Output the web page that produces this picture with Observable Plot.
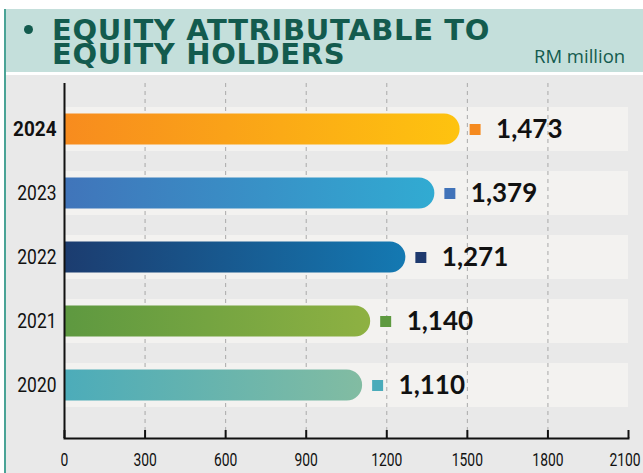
<!DOCTYPE html>
<html>
<head>
<meta charset="utf-8">
<script src="https://cdn.jsdelivr.net/npm/d3@7"></script>
<script src="https://cdn.jsdelivr.net/npm/@observablehq/plot@0.6"></script>
<style>
  html, body { margin: 0; padding: 0; background: #ffffff; }
  #page { position: relative; width: 643px; height: 473px; overflow: hidden; background: #fff; }
  #tealLine { position: absolute; left: 4px; top: 9px; width: 2px; height: 464px; background: #4aa396; }
  #header { position: absolute; left: 6px; top: 9px; width: 637px; height: 63px; background: #c4dfdb; }
  #bodyBg { position: absolute; left: 6px; top: 75px; width: 637px; height: 398px; background: #e9e9e9; }
  .title { position: absolute; font-family: "DejaVu Sans", sans-serif; font-weight: 700; font-size: 29px;
           line-height: 22px; color: #135b4e; letter-spacing: 0.65px; white-space: nowrap; }
  #bullet { position: absolute; left: 24px; top: 25px; width: 9px; height: 9px; border-radius: 50%; background: #135b4e; }
  #unit { position: absolute; left: 534px; top: 45px; font-family: "Open Sans", sans-serif; font-size: 18.5px;
          font-weight: 500; line-height: 22px; color: #135b4e; white-space: nowrap; }
  #chart { position: absolute; left: 0; top: 75px; }
  #defs { position: absolute; width: 0; height: 0; }
</style>
</head>
<body>
<div id="page">
  <div id="header"></div>
  <div id="bodyBg"></div>
  <div id="tealLine"></div>
  <div id="bullet"></div>
  <div class="title" id="t1" style="left:52px; top:18.5px;">EQUITY ATTRIBUTABLE TO</div>
  <div class="title" id="t2" style="left:52px; top:42.5px;">EQUITY HOLDERS</div>
  <div id="unit">RM million</div>
  <div id="chart"></div>
</div>
<script>
// ---- data ----
const years = ["2024", "2023", "2022", "2021", "2020"];
const values = [1473, 1379, 1271, 1140, 1110];
const gradStart = ["#f7891f", "#4172b9", "#1c396c", "#5b9740", "#49abbb"];
const gradEnd = ["#fec30f", "#31abd2", "#1479b2", "#8eb142", "#82bca2"];
const markerColors = ["#f58a1f", "#4173b9", "#1e3a6e", "#5e9a40", "#4aabba"];
const xTicks = [0, 300, 600, 900, 1200, 1500, 1800, 2100];
const gridTicks = [300, 600, 900, 1200, 1500, 1800];
const boldYear = "2024";

const rows = years.map((year, i) => ({
  year, value: values[i], g0: gradStart[i], g1: gradEnd[i], marker: markerColors[i]
}));

// gradient defs
const ns = "http://www.w3.org/2000/svg";
const defsSvg = document.createElementNS(ns, "svg");
defsSvg.setAttribute("id", "defs");
defsSvg.setAttribute("width", 0);
defsSvg.setAttribute("height", 0);
const defs = document.createElementNS(ns, "defs");
rows.forEach(r => {
  const lg = document.createElementNS(ns, "linearGradient");
  lg.setAttribute("id", "g" + r.year);
  lg.setAttribute("x1", "0"); lg.setAttribute("x2", "1");
  lg.setAttribute("y1", "0"); lg.setAttribute("y2", "0");
  [[0, r.g0], [1, r.g1]].forEach(([o, c]) => {
    const s = document.createElementNS(ns, "stop");
    s.setAttribute("offset", o);
    s.setAttribute("stop-color", c);
    lg.appendChild(s);
  });
  defs.appendChild(lg);
});
defsSvg.appendChild(defs);
document.body.appendChild(defsSvg);

const labelFont = "Roboto, 'Liberation Sans', sans-serif";

const chart = Plot.plot({
  width: 643,
  height: 398,
  marginLeft: 64,
  marginRight: 15,
  marginTop: 8,
  marginBottom: 35,
  style: { background: "transparent", overflow: "visible" },
  x: { domain: [0, 2100], axis: null, label: null },
  y: { domain: years, range: [21.5, 341.5], padding: 0, axis: null, label: null },
  color: { type: "identity" },
  marks: [
    Plot.barX(rows, { x1: 0, x2: 2100, y: "year", fill: "#f3f2f0", insetTop: 10, insetBottom: 10 }),
    Plot.ruleX(gridTicks, { stroke: "#a9a9a9", strokeWidth: 1, strokeDasharray: "4,4" }),
    Plot.barX(rows, {
      x1: 0, x2: "value", y: "year",
      fill: d => `url(#g${d.year})`,
      rx: 15.5, insetLeft: -17, insetTop: 16.5, insetBottom: 16.5, clip: true
    }),
    Plot.dot(rows, { x: "value", y: "year", symbol: "square", r: 6.2, fill: "marker", stroke: null, dx: 15 }),
    Plot.text(rows, {
      x: "value", y: "year", text: d => d3.format(",")(d.value),
      dx: 36, textAnchor: "start", fontSize: 26, fontWeight: 700,
      fontFamily: "Lato, sans-serif", fill: "#111"
    }),
    Plot.ruleX([0], { stroke: "#111", strokeWidth: 2 }),
    Plot.frame({ anchor: "bottom", stroke: "#111", strokeWidth: 2 }),
    Plot.axisX({
      ticks: xTicks, tickSize: -8, tickPadding: 23, tickFormat: d => String(d), label: null,
      fontSize: 18, fontFamily: labelFont, fill: "#111", stroke: "#111", strokeWidth: 2
    }),
    Plot.text(rows.filter(d => d.year !== boldYear), {
      x: 0, y: "year", text: "year", dx: -8, textAnchor: "end",
      fontSize: 21, fontFamily: labelFont, fill: "#111"
    }),
    Plot.text(rows.filter(d => d.year === boldYear), {
      x: 0, y: "year", text: "year", dx: -8, textAnchor: "end",
      fontSize: 21, fontWeight: 700, fontFamily: labelFont, fill: "#111"
    })
  ]
});
document.getElementById("chart").appendChild(chart);

// condense label glyphs to match the narrow typeface of the original
function condenseEl(el, factor) {
  const w = el.getComputedTextLength();
  el.setAttribute("textLength", (w * factor).toFixed(2));
  el.setAttribute("lengthAdjust", "spacingAndGlyphs");
}
d3.select(chart).selectAll('g[aria-label="x-axis tick label"] text').each(function () {
  condenseEl(this, 0.77);
  if (this.textContent === "2100") this.setAttribute("dx", "-3.5");
});
d3.select(chart).selectAll("text").each(function () {
  const t = this.textContent;
  if (years.includes(t)) {
    condenseEl(this, t === boldYear ? 0.9 : 0.83);
  }
});
</script>
</body>
</html>
